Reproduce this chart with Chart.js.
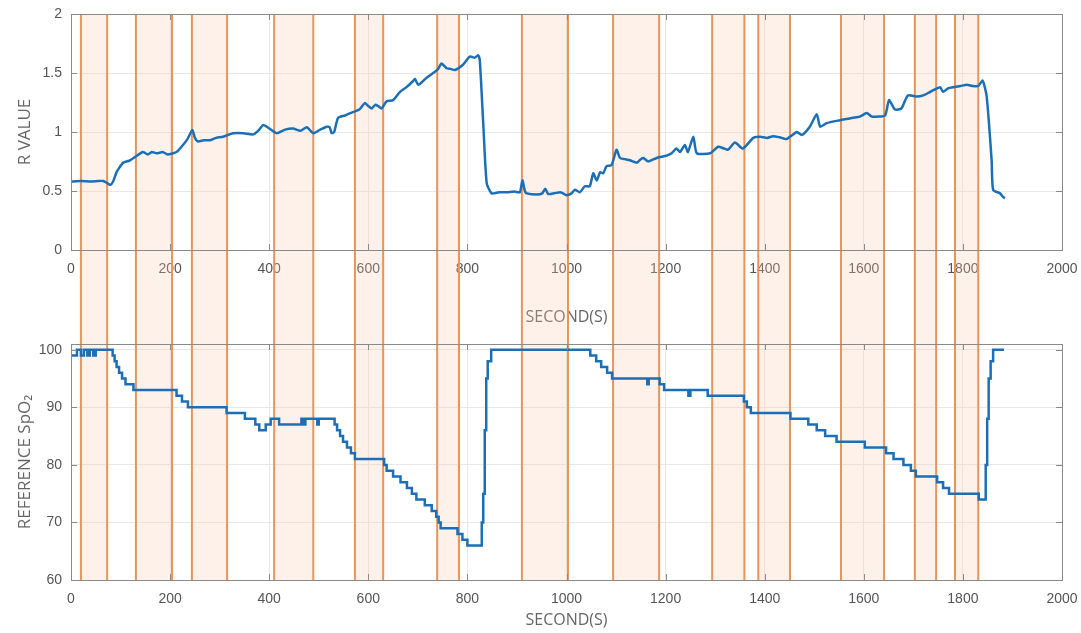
<!DOCTYPE html>
<html>
<head>
<meta charset="utf-8">
<script src="https://cdn.jsdelivr.net/npm/chart.js@4.4.1/dist/chart.umd.min.js"></script>
<style>
  body { margin: 0; background: #fff; }
  #wrap { position: relative; width: 1081px; height: 633px; }
  canvas { position: absolute; left: 0; }
  #topChart { top: 0; }
  #bottomChart { top: 330px; }
</style>
</head>
<body>
<div id="wrap">
  <canvas id="topChart" width="1081" height="330"></canvas>
  <canvas id="bottomChart" width="1081" height="303"></canvas>
</div>
<script>
// shaded intervals (seconds)
const bandStarts = [20, 131, 244, 410, 573, 739, 910, 1094, 1294, 1387, 1554, 1703, 1784];
const bandEnds   = [73, 204, 315, 489, 630, 783, 1003, 1187, 1359, 1451, 1641, 1746, 1831];

// R value trace
const rTime = [0, 20, 40, 55, 65, 72, 79, 85, 92, 98, 105, 112, 119, 130, 145, 155, 163, 173, 185, 195,
  206, 213, 220, 235, 245, 250, 256, 268, 281, 293, 307, 327, 348, 368, 380, 388, 400, 415, 432, 448,
  463, 476, 489, 503, 516, 522, 526, 531, 539, 553, 570, 582, 593, 600, 607, 614, 620, 627, 637, 650,
  664, 677, 690, 694, 701, 715, 731, 740, 748, 758, 766, 775, 791, 805, 815, 822, 825, 832, 839, 849,
  864, 879, 895, 906, 911, 916, 920, 940, 951, 957, 963, 975, 987, 993, 1000, 1010, 1017, 1027, 1037, 1047,
  1054, 1061, 1068, 1074, 1081, 1091, 1101, 1108, 1118, 1128, 1142, 1150, 1155, 1165, 1182, 1192, 1202, 1212, 1222, 1229,
  1239, 1245, 1256, 1263, 1290, 1306, 1318, 1326, 1340, 1356, 1377, 1391, 1405, 1417, 1430, 1444, 1465, 1475, 1491, 1505,
  1512, 1525, 1552, 1565, 1578, 1592, 1606, 1616, 1626, 1643, 1651, 1663, 1676, 1689, 1707, 1720, 1734, 1754, 1760, 1770,
  1780, 1795, 1808, 1820, 1831, 1840, 1848, 1858, 1861, 1875, 1881, 1885];
const rValue = [0.58, 0.585, 0.58, 0.585, 0.585, 0.57, 0.55, 0.58, 0.66, 0.70, 0.74, 0.75, 0.76, 0.79, 0.83, 0.81, 0.83, 0.82, 0.83, 0.81,
  0.82, 0.83, 0.86, 0.94, 1.017, 0.95, 0.92, 0.93, 0.93, 0.95, 0.96, 0.99, 0.99, 0.98, 1.02, 1.06, 1.03, 0.99, 1.02, 1.03,
  1.01, 1.04, 0.99, 1.02, 1.045, 1.04, 0.99, 1.0, 1.12, 1.14, 1.17, 1.19, 1.245, 1.22, 1.20, 1.23, 1.22, 1.20, 1.26, 1.27,
  1.34, 1.38, 1.43, 1.45, 1.40, 1.45, 1.50, 1.53, 1.58, 1.54, 1.535, 1.525, 1.57, 1.64, 1.63, 1.65, 1.61, 1.07, 0.565, 0.48,
  0.49, 0.49, 0.495, 0.49, 0.59, 0.50, 0.48, 0.47, 0.48, 0.52, 0.475, 0.48, 0.49, 0.48, 0.465, 0.48, 0.51, 0.49, 0.54, 0.54,
  0.65, 0.59, 0.66, 0.65, 0.71, 0.72, 0.85, 0.78, 0.77, 0.76, 0.74, 0.77, 0.78, 0.75, 0.78, 0.79, 0.80, 0.82, 0.86, 0.83,
  0.89, 0.83, 0.96, 0.82, 0.82, 0.875, 0.86, 0.85, 0.91, 0.86, 0.95, 0.96, 0.95, 0.965, 0.955, 0.94, 1.00, 0.975, 1.045, 1.15,
  1.045, 1.075, 1.10, 1.11, 1.12, 1.13, 1.16, 1.13, 1.13, 1.14, 1.27, 1.19, 1.20, 1.31, 1.30, 1.31, 1.34, 1.38, 1.34, 1.37,
  1.38, 1.39, 1.40, 1.39, 1.39, 1.435, 1.30, 0.76, 0.51, 0.48, 0.45, 0.44];

// reference SpO2, points where the reading changes
const spoTime = [0, 12, 20, 26, 33, 38, 45, 50, 84, 88, 92, 97, 103, 110, 126, 213, 224, 236, 314, 351,
  372, 380, 393, 403, 420, 465, 469, 473, 497, 500, 532, 537, 543, 549, 557, 565, 573, 632, 637, 650,
  665, 678, 688, 697, 714, 728, 737, 742, 746, 780, 790, 800, 829, 832, 835, 838, 841, 848, 1048, 1060,
  1070, 1082, 1092, 1163, 1166, 1188, 1197, 1246, 1250, 1285, 1358, 1364, 1372, 1452, 1488, 1505, 1522, 1545, 1602, 1645,
  1660, 1680, 1695, 1705, 1748, 1760, 1772, 1832, 1846, 1849, 1852, 1856, 1861, 1883];
const spoValue = [99, 100, 99, 100, 99, 100, 99, 100, 99, 98, 97, 96, 95, 94, 93, 92, 91, 90, 89, 88,
  87, 86, 87, 88, 87, 88, 87, 88, 87, 88, 87, 86, 85, 84, 83, 82, 81, 80, 79, 78,
  77, 76, 75, 74, 73, 72, 71, 70, 69, 68, 67, 66, 70, 75, 86, 95, 98, 100, 99, 98,
  97, 96, 95, 94, 95, 94, 93, 92, 93, 92, 91, 90, 89, 88, 87, 86, 85, 84, 83, 82,
  81, 80, 79, 78, 77, 76, 75, 74, 80, 88, 95, 98, 100, 100];

const xTicks = [0, 200, 400, 600, 800, 1000, 1200, 1400, 1600, 1800, 2000];

const lineColor = '#1c6fb6';
const tickFont = { family: 'Liberation Sans', size: 14 };
const titleFont = { family: 'Open Sans', size: 16 };

const bandPlugin = {
  id: 'bands',
  beforeDatasetsDraw(chart, args, opts) {
    const { ctx, chartArea, scales } = chart;
    const top = opts.up ? 0 : chartArea.top;
    const bottom = opts.down ? chart.height : chartArea.bottom;
    ctx.save();
    for (let i = 0; i < bandStarts.length; i++) {
      const x0 = scales.x.getPixelForValue(bandStarts[i]);
      const x1 = scales.x.getPixelForValue(bandEnds[i]);
      ctx.fillStyle = 'rgba(248,200,170,0.25)';
      ctx.fillRect(x0, top, x1 - x0, bottom - top);
      ctx.strokeStyle = '#e9945a';
      ctx.lineWidth = 2;
      ctx.beginPath();
      ctx.moveTo(x0, top); ctx.lineTo(x0, bottom);
      ctx.moveTo(x1, top); ctx.lineTo(x1, bottom);
      ctx.stroke();
    }
    ctx.restore();
  }
};

// matlab style box with inward ticks
const boxPlugin = {
  id: 'box',
  afterDatasetsDraw(chart) {
    const { ctx, chartArea: a, scales } = chart;
    ctx.save();
    ctx.strokeStyle = '#8a8a8a';
    ctx.lineWidth = 1;
    ctx.strokeRect(a.left + 0.5, a.top + 0.5, a.right - a.left, a.bottom - a.top);
    ctx.beginPath();
    scales.x.ticks.forEach(t => {
      const px = Math.round(scales.x.getPixelForValue(t.value)) + 0.5;
      ctx.moveTo(px, a.bottom); ctx.lineTo(px, a.bottom - 6);
      ctx.moveTo(px, a.top); ctx.lineTo(px, a.top + 6);
    });
    scales.y.ticks.forEach(t => {
      const py = Math.round(scales.y.getPixelForValue(t.value)) + 0.5;
      ctx.moveTo(a.left, py); ctx.lineTo(a.left + 6, py);
      ctx.moveTo(a.right, py); ctx.lineTo(a.right - 6, py);
    });
    ctx.stroke();
    ctx.restore();
  }
};

function xAxis(height) {
  return {
    type: 'linear', min: 0, max: 2000,
    afterBuildTicks: axis => { axis.ticks = xTicks.map(v => ({ value: v })); },
    afterFit: axis => { axis.height = height; axis.paddingLeft = 0; axis.paddingRight = 0; },
    grid: { color: '#e8e8e8', drawTicks: false },
    border: { display: false },
    ticks: { font: tickFont, color: '#555', padding: 11, maxRotation: 0, callback: v => String(v) },
    title: { display: true, text: 'SECOND(S)', font: titleFont, color: '#666', padding: { top: 4, bottom: 3 } }
  };
}

function yAxis(min, max, ticks, label) {
  return {
    min: min, max: max,
    afterBuildTicks: axis => { axis.ticks = ticks.map(v => ({ value: v })); },
    afterFit: axis => { axis.width = 71; axis.paddingTop = 0; axis.paddingBottom = 0; },
    grid: { color: '#e8e8e8', drawTicks: false },
    border: { display: false },
    ticks: { font: tickFont, color: '#555', padding: 9, callback: v => String(v) },
    title: { display: true, text: label, font: { family: 'Open Sans', size: 17 }, color: '#666', padding: { top: 15, bottom: 0 } }
  };
}

new Chart(document.getElementById('topChart'), {
  type: 'line',
  data: {
    datasets: [{
      data: rTime.map((t, i) => ({ x: t, y: rValue[i] })),
      borderColor: lineColor, borderWidth: 2.5, pointRadius: 0, tension: 0.2
    }]
  },
  options: {
    responsive: false, animation: false,
    layout: { padding: { top: 14, right: 19, left: 0, bottom: 0 } },
    plugins: { legend: { display: false }, tooltip: { enabled: false }, bands: { down: true } },
    scales: {
      x: xAxis(80),
      y: yAxis(0, 2, [0, 0.5, 1, 1.5, 2], 'R VALUE')
    }
  },
  plugins: [bandPlugin, boxPlugin]
});

new Chart(document.getElementById('bottomChart'), {
  type: 'line',
  data: {
    datasets: [{
      data: spoTime.map((t, i) => ({ x: t, y: spoValue[i] })),
      borderColor: lineColor, borderWidth: 2.5, pointRadius: 0, stepped: true
    }]
  },
  options: {
    responsive: false, animation: false,
    layout: { padding: { top: 14, right: 19, left: 0, bottom: 0 } },
    plugins: { legend: { display: false }, tooltip: { enabled: false }, bands: { up: true } },
    scales: {
      x: xAxis(53),
      y: yAxis(60, 101, [60, 70, 80, 90, 100], 'REFERENCE SpO₂')
    }
  },
  plugins: [bandPlugin, boxPlugin]
});
</script>
</body>
</html>
